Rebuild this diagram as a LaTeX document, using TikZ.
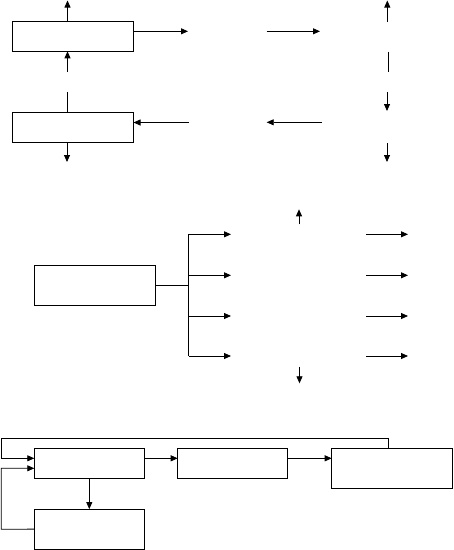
\documentclass[tikz,border=0pt]{standalone}
\usepackage{tikz}
\usetikzlibrary{arrows.meta,positioning}

\begin{document}
\begin{tikzpicture}[
  x=1pt,y=-1pt,
  box/.style={draw=black,line width=0.8pt,minimum width=121pt,minimum height=30pt,inner sep=0pt,outer sep=0pt},
  boxtall/.style={box,minimum height=40pt},
  boxsmall/.style={box,minimum width=110pt},
  arrow/.style={-{Triangle[length=7pt,width=6pt]},line width=0.8pt},
  link/.style={line width=0.8pt}
]
\useasboundingbox (0,0) rectangle (454,550);
% top loop
\node[box] (boxa) at (73,36.3) {};
\node[box,below=61pt of boxa] (boxb) {};
\coordinate (upa) at (67.5,0.5);
\coordinate (outa) at (188,31.3);
\coordinate (mida1) at (266.7,31.3);
\coordinate (mida2) at (320,31.3);
\coordinate (rc1) at (387.3,21.7);
\coordinate (rc2) at (387.3,0.5);
\coordinate (rc3) at (388,51.7);
\coordinate (rc4) at (388,72);
\coordinate (rc5) at (387,92);
\coordinate (rc6) at (387,111);
\coordinate (rc7) at (387,143);
\coordinate (rc8) at (387,162);
\coordinate (lb) at (67.7,92);
\coordinate (la) at (67.5,72);
\coordinate (downb) at (67,162);
\coordinate (inb) at (188.7,122.5);
\coordinate (midb1) at (322,122.3);
\coordinate (midb2) at (266.7,122.3);
\draw[arrow] (boxa.north -| upa) -- (upa);
\draw[arrow] (boxa.east |- outa) -- (outa);
\draw[arrow] (mida1) -- (mida2);
\draw[arrow] (rc1) -- (rc2);
\draw[link] (rc3) -- (rc4);
\draw[arrow] (rc5) -- (rc6);
\draw[arrow] (rc7) -- (rc8);
\draw[link] (boxb.north -| lb) -- (lb);
\draw[arrow] (la) -- (boxa.south -| la);
\draw[arrow] (boxb.south -| downb) -- (downb);
\draw[arrow] (inb) -- (boxb.east |- inb);
\draw[arrow] (midb1) -- (midb2);
% middle fan
\node[boxtall] (boxc) at (94.8,285.3) {};
\coordinate (fork) at (188.7,285.3);
\coordinate (forktop) at (188.7,234.3);
\coordinate (forkbot) at (188.7,356);
\draw[link] (boxc.east) -- (fork);
\draw[link] (forktop) -- (forkbot);
\foreach \y [count=\i] in {234.3,275.3,316,356}{
  \coordinate (fa\i) at (188.7,\y);
  \coordinate (fb\i) at (231,\y);
  \coordinate (fc\i) at (366,\y);
  \coordinate (fd\i) at (408,\y);
  \draw[arrow] (fa\i) -- (fb\i);
  \draw[arrow] (fc\i) -- (fd\i);
}
\coordinate (up1) at (299,224.3);
\coordinate (up2) at (299,209.3);
\coordinate (dn1) at (299.5,366.7);
\coordinate (dn2) at (299.5,383.3);
\draw[arrow] (up1) -- (up2);
\draw[arrow] (dn1) -- (dn2);
% bottom chain
\node[boxsmall] (boxd) at (89.3,463.5) {};
\node[boxsmall,right=33.4pt of boxd] (boxe) {};
\node[boxtall,right=44pt of boxe.north east,anchor=north west] (boxf) {};
\node[boxsmall,minimum height=40pt,below=30.6pt of boxd.south,anchor=north] (boxg) {};
\coordinate (row) at (0,458.3);
\coordinate (fbtop) at (388,438.3);
\coordinate (fbleft) at (1,438.3);
\coordinate (gbleft) at (1.3,529.3);
\coordinate (gbin) at (0,468.3);
\draw[arrow] (boxd.east |- row) -- (boxe.west |- row);
\draw[arrow] (boxe.east |- row) -- (boxf.west |- row);
\draw[arrow] (boxd.south) -- (boxg.north);
\draw[arrow] (boxf.north -| fbtop) -- (fbtop) -- (fbleft) |- (boxd.west |- row);
\draw[arrow] (boxg.west) -- (gbleft) |- (boxd.west |- gbin);
\end{tikzpicture}
\end{document}
